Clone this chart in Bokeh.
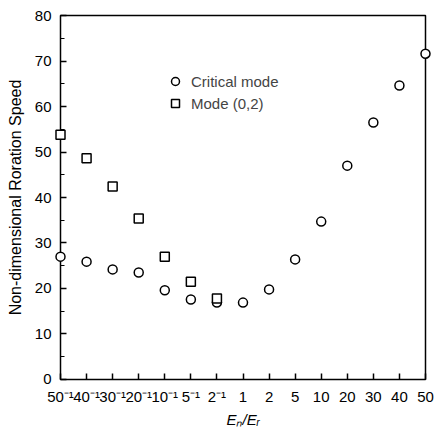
from bokeh.plotting import figure
from bokeh.models import FixedTicker, Range1d, Legend, LegendItem, LinearAxis
from bokeh.embed import file_html
from bokeh.resources import INLINE

ratio_labels = ["50⁻¹", "40⁻¹", "30⁻¹", "20⁻¹", "10⁻¹", "5⁻¹", "2⁻¹",
                "1", "2", "5", "10", "20", "30", "40", "50"]
critical_speed = [27.0, 25.9, 24.2, 23.5, 19.6, 17.6, 16.9, 16.9, 19.8,
                  26.4, 34.7, 47.0, 56.5, 64.6, 71.6]
mode02_labels = ratio_labels[:7]
mode02_speed = [53.8, 48.6, 42.4, 35.4, 27.0, 21.5, 17.8]
y_ticks = [0, 10, 20, 30, 40, 50, 60, 70, 80]

xpos = list(range(len(ratio_labels)))
xpos_mode = [ratio_labels.index(l) for l in mode02_labels]
x_first, x_last = xpos[0], xpos[-1]
y_lo, y_hi = y_ticks[0], y_ticks[-1]
xpad = 0.307  # room so edge markers are not clipped
ypad = 0.44

FONT = "Liberation Sans"

p = figure(width=439, height=430,
           x_range=Range1d(x_first - xpad, x_last + xpad),
           y_range=Range1d(y_lo - ypad, y_hi + ypad),
           output_backend="svg", toolbar_location=None,
           min_border_left=52, min_border_right=6, min_border_top=13,
           min_border_bottom=49)
p.grid.visible = False
p.outline_line_color = None
p.background_fill_color = "white"
p.border_fill_color = "white"

# plot frame box over the data extent (drawn first, under the markers)
p.quad(left=[x_first], right=[x_last], bottom=[y_lo], top=[y_hi],
       fill_color=None, line_color="black", line_width=1.5)

r1 = p.scatter(xpos, critical_speed, marker="circle", size=9, fill_color="white",
               line_color="black", line_width=1.5)
r2 = p.scatter(xpos_mode, mode02_speed, marker="square", size=9, fill_color="white",
               line_color="black", line_width=1.5)

x_ticker = FixedTicker(ticks=xpos, minor_ticks=[])
y_ticker = FixedTicker(ticks=y_ticks, minor_ticks=[v + 5 for v in y_ticks[:-1]])

# label axes (at the frame edges)
xa = p.xaxis[0]
xa.ticker = x_ticker
xa.major_label_overrides = {i: l for i, l in enumerate(ratio_labels)}
xa.axis_label = "Eₙ/Eᵣ"
xa.axis_label_text_font_style = "italic"
xa.axis_label_text_font_size = "15px"
xa.axis_label_standoff = 3
xa.major_label_standoff = 6

ya = p.yaxis[0]
ya.ticker = y_ticker
ya.axis_label = "Non-dimensional Roration Speed"
ya.axis_label_text_font_style = "normal"
ya.axis_label_text_font_size = "16px"
ya.axis_label_standoff = 8
ya.major_label_standoff = 1

for ax in (xa, ya):
    ax.axis_line_color = None
    ax.major_tick_line_color = None
    ax.minor_tick_line_color = None
    ax.major_tick_in = 0
    ax.major_tick_out = 0
    ax.minor_tick_in = 0
    ax.minor_tick_out = 0
    ax.axis_label_text_font = FONT
    ax.major_label_text_font = FONT
    ax.major_label_text_font_size = "15px"
    ax.major_label_text_color = "black"
    ax.axis_label_text_color = "black"

# tick axes (at the data edges, ticks pointing inward, no labels)
xt = LinearAxis(ticker=x_ticker, fixed_location=y_lo)
yt = LinearAxis(ticker=y_ticker, fixed_location=x_first)
for ax in (xt, yt):
    ax.axis_line_color = None
    ax.major_label_text_color = None
    ax.major_label_text_font_size = "1px"
    ax.major_label_standoff = 0
    ax.major_tick_in = 6
    ax.major_tick_out = 0
    ax.minor_tick_in = 4
    ax.minor_tick_out = 0
    ax.major_tick_line_width = 1.5
    ax.minor_tick_line_width = 1.2
    ax.major_tick_line_color = "black"
    ax.minor_tick_line_color = "black"
p.add_layout(xt, "below")
p.add_layout(yt, "left")

legend = Legend(items=[LegendItem(label="Critical mode", renderers=[r1]),
                       LegendItem(label="Mode (0,2)", renderers=[r2])],
                location=(113, 268), border_line_color=None,
                background_fill_alpha=0, label_text_font=FONT,
                label_text_font_size="15px", spacing=2, glyph_width=20,
                label_standoff=6)
p.add_layout(legend)

open("out.html", "w").write(file_html(p, INLINE))
